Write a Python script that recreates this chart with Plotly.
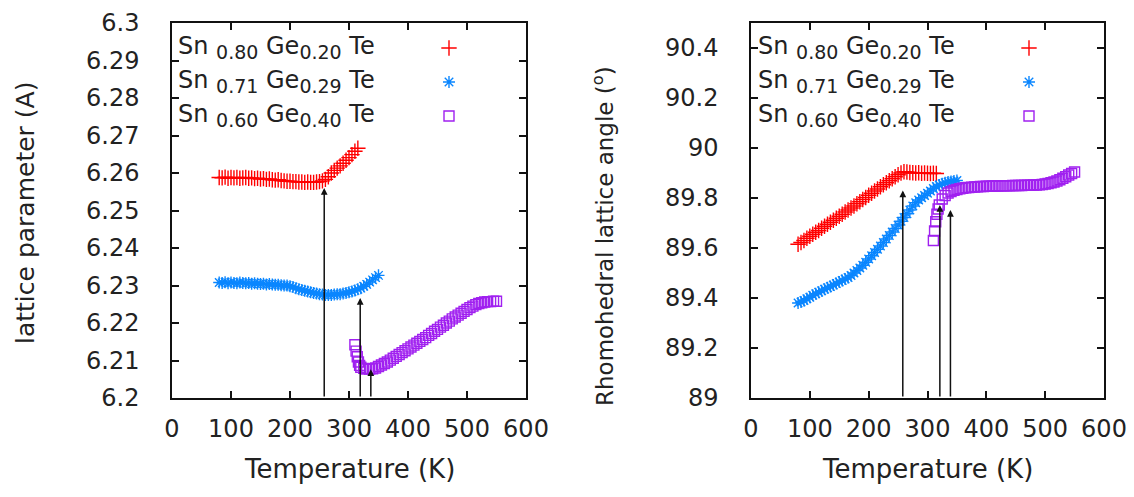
import plotly.graph_objects as go

FONT = "DejaVu Sans"
W, H = 1134, 497

# ---- measured data -------------------------------------------------------
# Sn0.80Ge0.20Te
temp_a = [80, 85, 90, 95, 100, 105, 110, 115, 120, 125, 130, 135, 140, 145, 150,
          155, 160, 165, 170, 175, 180, 185, 190, 195, 200, 205, 210, 215, 220,
          225, 230, 235, 240, 245, 250, 255, 260, 265, 270, 275, 280, 285, 290,
          295, 300, 305, 310, 315]
lat_a = [6.2588, 6.2587, 6.2589, 6.2586, 6.2588, 6.2587, 6.2588, 6.2586, 6.2587,
         6.2588, 6.2586, 6.2587, 6.2585, 6.2586, 6.2584, 6.2585, 6.2583, 6.2584,
         6.2582, 6.2581, 6.2582, 6.2580, 6.2579, 6.2578, 6.2578, 6.2577, 6.2577,
         6.2576, 6.2576, 6.2575, 6.2576, 6.2575, 6.2575, 6.2576, 6.2577, 6.2579,
         6.2583, 6.2590, 6.2600, 6.2607, 6.2613, 6.2619, 6.2626, 6.2634, 6.2641,
         6.2649, 6.2658, 6.2666]
ang_a = [89.615, 89.622, 89.630, 89.639, 89.647, 89.655, 89.663, 89.670, 89.679,
         89.687, 89.695, 89.703, 89.711, 89.719, 89.727, 89.735, 89.744, 89.752,
         89.760, 89.768, 89.777, 89.785, 89.794, 89.802, 89.811, 89.819, 89.828,
         89.836, 89.845, 89.853, 89.861, 89.869, 89.877, 89.885, 89.893, 89.900,
         89.905, 89.904, 89.902, 89.901, 89.900, 89.901, 89.899, 89.900, 89.899,
         89.898, 89.899, 89.898]

# Sn0.71Ge0.29Te
temp_b = [80, 85, 90, 95, 100, 105, 110, 115, 120, 125, 130, 135, 140, 145, 150,
          155, 160, 165, 170, 175, 180, 185, 190, 195, 200, 205, 210, 215, 220,
          225, 230, 235, 240, 245, 250, 255, 260, 265, 270, 275, 280, 285, 290,
          295, 300, 305, 310, 315, 320, 325, 330, 335, 340, 345, 350]
lat_b = [6.2308, 6.2307, 6.2309, 6.2306, 6.2308, 6.2307, 6.2306, 6.2308, 6.2307,
         6.2306, 6.2307, 6.2305, 6.2306, 6.2305, 6.2304, 6.2305, 6.2303, 6.2304,
         6.2303, 6.2302, 6.2302, 6.2301, 6.2300, 6.2300, 6.2298, 6.2296, 6.2293,
         6.2290, 6.2288, 6.2286, 6.2284, 6.2282, 6.2280, 6.2279, 6.2277, 6.2276,
         6.2275, 6.2275, 6.2275, 6.2276, 6.2277, 6.2277, 6.2279, 6.2280, 6.2282,
         6.2284, 6.2287, 6.2290, 6.2293, 6.2298, 6.2303, 6.2309, 6.2315, 6.2321,
         6.2327]
ang_b = [89.380, 89.384, 89.390, 89.397, 89.403, 89.411, 89.417, 89.423, 89.429,
         89.435, 89.441, 89.446, 89.452, 89.458, 89.464, 89.470, 89.476, 89.482,
         89.490, 89.500, 89.510, 89.520, 89.531, 89.543, 89.556, 89.569, 89.582,
         89.595, 89.608, 89.622, 89.636, 89.650, 89.664, 89.678, 89.692, 89.707,
         89.722, 89.737, 89.752, 89.768, 89.781, 89.792, 89.801, 89.810, 89.819,
         89.828, 89.838, 89.846, 89.852, 89.857, 89.861, 89.864, 89.866, 89.868,
         89.870]

# Sn0.60Ge0.40Te
temp_c = [310, 312, 314, 316, 318, 320, 325, 330, 335, 340, 345, 350, 355, 360,
          365, 370, 375, 380, 385, 390, 395, 400, 405, 410, 415, 420, 425, 430,
          435, 440, 445, 450, 455, 460, 465, 470, 475, 480, 485, 490, 495, 500,
          505, 510, 515, 520, 525, 530, 535, 540, 545, 550]
lat_c = [6.2142, 6.2125, 6.2110, 6.2096, 6.2087, 6.2082, 6.2079, 6.2077, 6.2077,
         6.2078, 6.2080, 6.2084, 6.2088, 6.2092, 6.2096, 6.2101, 6.2106, 6.2111,
         6.2116, 6.2121, 6.2126, 6.2131, 6.2136, 6.2141, 6.2146, 6.2151, 6.2156,
         6.2161, 6.2167, 6.2172, 6.2178, 6.2183, 6.2189, 6.2194, 6.2200, 6.2205,
         6.2211, 6.2216, 6.2221, 6.2226, 6.2231, 6.2236, 6.2241, 6.2245, 6.2249,
         6.2252, 6.2254, 6.2256, 6.2257, 6.2257, 6.2258, 6.2258]
ang_c = [89.630, 89.668, 89.705, 89.735, 89.756, 89.772, 89.796, 89.810, 89.820,
         89.826, 89.831, 89.834, 89.837, 89.839, 89.841, 89.842, 89.843, 89.844,
         89.845, 89.846, 89.846, 89.847, 89.847, 89.848, 89.848, 89.848, 89.849,
         89.849, 89.849, 89.849, 89.850, 89.850, 89.850, 89.850, 89.851, 89.851,
         89.851, 89.852, 89.852, 89.853, 89.854, 89.856, 89.858, 89.861, 89.864,
         89.868, 89.873, 89.879, 89.885, 89.892, 89.898, 89.904]

# transition temperatures marked with arrows (temperature, arrow tip value)
arrow_T_lat = [258, 319, 337]
arrow_tip_lat = [6.2560, 6.2267, 6.2077]
arrow_T_ang = [258, 321, 339]
arrow_tip_ang = [89.830, 89.772, 89.752]

# axis ticks
x_ticks = [0, 100, 200, 300, 400, 500, 600]
x_labels = ["0", "100", "200", "300", "400", "500", "600"]
lat_ticks = [6.2, 6.21, 6.22, 6.23, 6.24, 6.25, 6.26, 6.27, 6.28, 6.29, 6.3]
lat_labels = ["6.2", "6.21", "6.22", "6.23", "6.24", "6.25", "6.26", "6.27",
              "6.28", "6.29", "6.3"]
ang_ticks = [89.0, 89.2, 89.4, 89.6, 89.8, 90.0, 90.2, 90.4]
ang_labels = ["89", "89.2", "89.4", "89.6", "89.8", "90", "90.2", "90.4"]

# legend entries: (Sn fraction, Ge fraction)
names = [("0.80", "0.20"), ("0.71", "0.29"), ("0.60", "0.40")]
colors = ["#ff0000", "#0a86ff", "#a020f0"]
symbols = ["cross-thin-open", "asterisk-open", "square-open"]
sizes = [11, 10, 10]

# ---- page geometry (pixels from the top-left corner) ----------------------
LEFT_BOX = (172, 526)       # x extent of the left panel
RIGHT_BOX = (751, 1104)     # x extent of the right panel
BOX_TOP, BOX_BOTTOM = 23, 398
KEY_ROWS = [48, 82, 116]
KEY_COLS = [449, 1029]
TEXT_COLS = [176, 756]


def px(x):
    return x / W


def py(y):
    return 1 - y / H


fig = go.Figure()

series = [(temp_a, lat_a, ang_a), (temp_b, lat_b, ang_b), (temp_c, lat_c, ang_c)]
for i, (t, lat, ang) in enumerate(series):
    mk = dict(symbol=symbols[i], size=sizes[i], color=colors[i],
              line=dict(color=colors[i], width=1.4))
    fig.add_trace(go.Scatter(x=t, y=lat, mode="markers", marker=mk,
                             xaxis="x", yaxis="y", showlegend=False))
    fig.add_trace(go.Scatter(x=t, y=ang, mode="markers", marker=mk,
                             xaxis="x2", yaxis="y2", showlegend=False))

# legend keys (drawn on a transparent overlay axis spanning the whole page)
for i in range(3):
    fig.add_trace(go.Scatter(
        x=[px(c) for c in KEY_COLS], y=[py(KEY_ROWS[i])] * 2, mode="markers",
        marker=dict(symbol=symbols[i], size=sizes[i], color=colors[i],
                    line=dict(color=colors[i], width=1.4)),
        xaxis="x3", yaxis="y3", showlegend=False, hoverinfo="skip"))

common = dict(showline=True, linecolor="#111", linewidth=1.5, mirror="allticks",
              ticks="inside", ticklen=7, tickwidth=1.5, tickcolor="#111",
              showgrid=False, zeroline=False, automargin=False,
              tickfont=dict(family=FONT, size=24, color="#222"))

left_dom = [px(LEFT_BOX[0]), px(LEFT_BOX[1])]
right_dom = [px(RIGHT_BOX[0]), px(RIGHT_BOX[1])]
ydom = [py(BOX_BOTTOM), py(BOX_TOP)]
hidden = dict(domain=[0, 1], range=[0, 1], visible=False, automargin=False,
              fixedrange=True)

fig.update_layout(
    template="none",
    width=W, height=H, autosize=False,
    margin=dict(l=0, r=0, t=0, b=0, pad=0),
    font=dict(family=FONT, color="#222"),
    paper_bgcolor="white", plot_bgcolor="rgba(0,0,0,0)",
    xaxis=dict(domain=left_dom, range=[0, 600], tickvals=x_ticks,
               ticktext=x_labels, anchor="y", ticklabelstandoff=8, **common),
    yaxis=dict(domain=ydom, range=[6.2, 6.3], tickvals=lat_ticks,
               ticktext=lat_labels, anchor="x", ticklabelstandoff=26, **common),
    xaxis2=dict(domain=right_dom, range=[0, 600], tickvals=x_ticks,
                ticktext=x_labels, anchor="y2", ticklabelstandoff=8, **common),
    yaxis2=dict(domain=ydom, range=[89, 90.5], tickvals=ang_ticks,
                ticktext=ang_labels, anchor="x2", ticklabelstandoff=26, **common),
    xaxis3=dict(anchor="y3", **hidden),
    yaxis3=dict(anchor="x3", **hidden),
)

ann = []
# arrows marking the transition temperatures
for t, tip in zip(arrow_T_lat, arrow_tip_lat):
    ann.append(dict(x=t, y=tip, ax=t, ay=6.2, xref="x", yref="y", axref="x",
                    ayref="y", showarrow=True, arrowhead=2, arrowsize=0.9,
                    arrowwidth=1.5, arrowcolor="#111", text=""))
for t, tip in zip(arrow_T_ang, arrow_tip_ang):
    ann.append(dict(x=t, y=tip, ax=t, ay=89.0, xref="x2", yref="y2", axref="x2",
                    ayref="y2", showarrow=True, arrowhead=2, arrowsize=0.9,
                    arrowwidth=1.5, arrowcolor="#111", text=""))

# legend text with subscripts
sub = "<sub><span style='font-size:19px'>{}</span></sub>"
for x0 in TEXT_COLS:
    for i, (s1, s2) in enumerate(names):
        txt = "Sn " + sub.format(s1) + " Ge" + sub.format(s2) + " Te"
        ann.append(dict(x=px(x0), y=py(KEY_ROWS[i]), xref="paper",
                        yref="paper", xanchor="left", yanchor="middle",
                        showarrow=False, text=txt,
                        font=dict(family=FONT, size=24, color="#222")))

# axis titles
ann.append(dict(x=px(0.5 * sum(LEFT_BOX)), y=py(469), xref="paper",
                yref="paper", xanchor="center", yanchor="middle",
                text="Temperature (K)", showarrow=False,
                font=dict(family=FONT, size=26, color="#222")))
ann.append(dict(x=px(0.5 * sum(RIGHT_BOX)), y=py(469), xref="paper",
                yref="paper", xanchor="center", yanchor="middle",
                text="Temperature (K)", showarrow=False,
                font=dict(family=FONT, size=26, color="#222")))
ann.append(dict(x=px(25), y=py(213), xref="paper", yref="paper",
                xanchor="center", yanchor="middle",
                text="lattice parameter (A)", textangle=-90, showarrow=False,
                font=dict(family=FONT, size=25, color="#222")))
ann.append(dict(x=px(603), y=py(236), xref="paper", yref="paper",
                xanchor="center", yanchor="middle",
                text="Rhomohedral lattice angle (<sup>o</sup>)", textangle=-90,
                showarrow=False, font=dict(family=FONT, size=23, color="#222")))
fig.update_layout(annotations=ann)

fig.write_html("out.html")
